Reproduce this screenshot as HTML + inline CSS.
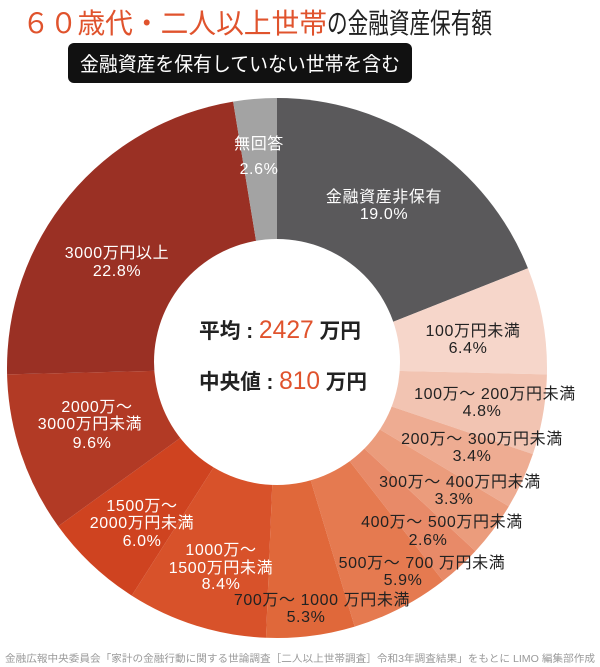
<!DOCTYPE html>
<html><head><meta charset="utf-8">
<style>
body{margin:0;background:#fff;width:600px;height:667px;overflow:hidden;font-family:"Liberation Sans","Noto Sans CJK JP",sans-serif;}
svg{display:block}
</style></head><body>
<svg id="s" width="600" height="667" viewBox="0 0 600 667" xmlns="http://www.w3.org/2000/svg" font-family="Liberation Sans, Noto Sans CJK JP, sans-serif">
<text x="22" y="33" font-size="28" fill="#e0532d" textLength="305" lengthAdjust="spacingAndGlyphs">６０歳代・二人以上世帯</text>
<text x="327" y="33" font-size="28" fill="#222" textLength="165" lengthAdjust="spacingAndGlyphs">の金融資産保有額</text>
<rect x="68" y="43" width="344" height="40" rx="6" fill="#111"/>
<text x="240" y="71" font-size="20" fill="#fff" text-anchor="middle" textLength="320" lengthAdjust="spacingAndGlyphs">金融資産を保有していない世帯を含む</text>
<g id="pie"></g>
<circle cx="277" cy="362" r="123" fill="#fff"/>
<g font-size="21" fill="#222" font-weight="bold">
<text x="199" y="338" textLength="162" lengthAdjust="spacingAndGlyphs">平均 : <tspan fill="#e0532d" font-size="25" font-weight="normal">2427</tspan> 万円</text>
<text x="199" y="389" textLength="168" lengthAdjust="spacingAndGlyphs">中央値 : <tspan fill="#e0532d" font-size="25" font-weight="normal">810</tspan> 万円</text>
</g>
<g font-size="16" letter-spacing="0.6" text-anchor="middle" fill="#fff">
<text x="259" y="149">無回答</text><text x="259" y="174">2.6%</text>
<text x="384" y="202">金融資産非保有</text><text x="384" y="219">19.0%</text>
<text x="117" y="258">3000万円以上</text><text x="117" y="276">22.8%</text>
<text x="97" y="412">2000万～</text><text x="90" y="429">3000万円未満</text><text x="92" y="448">9.6%</text>
<text x="142" y="511">1500万～</text><text x="142" y="528">2000万円未満</text><text x="142" y="546">6.0%</text>
<text x="221" y="555">1000万～</text><text x="221" y="573">1500万円未満</text><text x="221" y="589">8.4%</text>
</g>
<g font-size="16" letter-spacing="0.6" text-anchor="middle" fill="#222">
<text x="473" y="336">100万円未満</text><text x="468" y="353">6.4%</text>
<text x="495" y="399">100万～ 200万円未満</text><text x="482" y="416">4.8%</text>
<text x="482" y="444">200万～ 300万円未満</text><text x="472" y="461">3.4%</text>
<text x="460" y="487">300万～ 400万円未満</text><text x="454" y="504">3.3%</text>
<text x="442" y="527">400万～ 500万円未満</text><text x="428" y="545">2.6%</text>
<text x="422" y="568">500万～ 700 万円未満</text><text x="403" y="585">5.9%</text>
<text x="322" y="605">700万～ 1000 万円未満</text><text x="306" y="622">5.3%</text>
</g>
<text x="300" y="662" font-size="10" fill="#999" text-anchor="middle" textLength="590" lengthAdjust="spacingAndGlyphs">金融広報中央委員会「家計の金融行動に関する世論調査［二人以上世帯調査］令和3年調査結果」をもとに LIMO 編集部作成</text>
</svg>
<script>
var d=[[19.0,"#5a595b"],[6.4,"#f6d6ca"],[4.8,"#f2c4b2"],[3.4,"#eeac92"],[3.3,"#eb9c7c"],[2.6,"#e88a68"],[5.9,"#e57a50"],[5.3,"#e0683a"],[8.4,"#d8522a"],[6.0,"#cf4320"],[9.6,"#b23a25"],[22.8,"#9a3024"],[2.6,"#a3a3a3"]];
var cx=277,cy=368,R=270,a=0,t=100.1,g=document.getElementById("pie"),h="";
d.forEach(function(s){var a0=a/t*2*Math.PI;a+=s[0];var a1=a/t*2*Math.PI;
var x0=cx+R*Math.sin(a0),y0=cy-R*Math.cos(a0),x1=cx+R*Math.sin(a1),y1=cy-R*Math.cos(a1);
h+='<path d="M'+cx+','+cy+'L'+x0+','+y0+'A'+R+','+R+' 0 '+((a1-a0)>Math.PI?1:0)+' 1 '+x1+','+y1+'Z" fill="'+s[1]+'"/>';});
g.innerHTML=h;
</script>
</body></html>
